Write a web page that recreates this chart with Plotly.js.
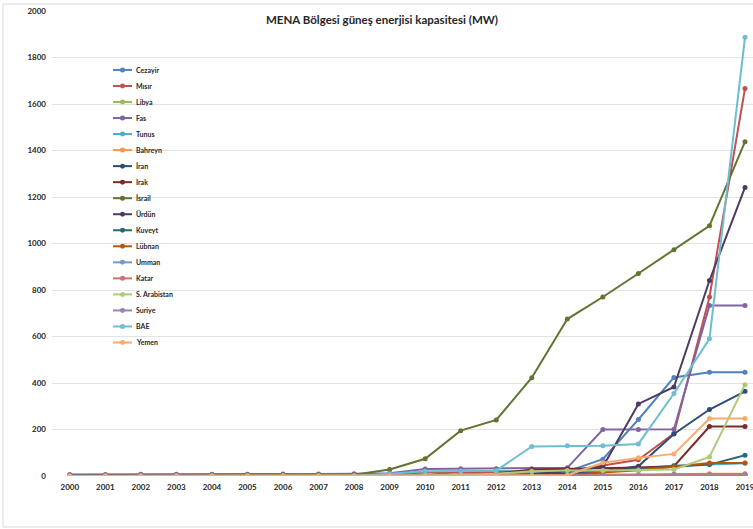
<!DOCTYPE html>
<html>
<head>
<meta charset="utf-8">
<script src="https://cdn.plot.ly/plotly-3.0.1.min.js"></script>
<style>html,body{margin:0;padding:0;background:#fff;}#chart{width:753px;height:529px;}</style>
</head>
<body>
<div id="chart"></div>
<script>
// ---- data ----
const years = ['2000','2001','2002','2003','2004','2005','2006','2007','2008','2009','2010','2011','2012','2013','2014','2015','2016','2017','2018','2019'];
const countries = ['Cezayir','Mısır','Libya','Fas','Tunus','Bahreyn','İran','Irak','İsrail','Ürdün','Kuveyt','Lübnan','Umman','Katar','S. Arabistan','Suriye','BAE','Yemen'];
const cezayir    = [1,1,1,1,1,1,1,1,1,1,2,20,20,20,20,72,243,424,446,446];
const misir      = [4,4,4,5,5,5,5,6,6,7,15,15,15,16,20,45,70,183,770,1667];
const libya      = [1,1,1,1,1,1,1,1,1,2,4,4,4,4,4,4,5,5,5,5];
const fas        = [6,6,7,7,8,8,9,9,10,12,30,31,31,31,35,200,200,201,733,733];
const tunus      = [0,0,0,0,1,1,1,1,2,3,4,5,8,12,15,20,30,45,50,55];
const bahreyn    = [0,0,0,0,0,0,0,0,0,0,0,0,1,3,5,5,6,8,10,10];
const iran       = [0,0,0,0,0,0,0,0,1,1,1,2,3,5,10,20,42,181,286,364];
const irak       = [0,0,0,0,0,0,0,0,0,1,2,5,10,28,30,35,37,42,213,213];
const israil     = [1,1,1,1,1,1,2,3,5,28,74,195,241,423,675,770,871,973,1076,1438];
const urdun      = [0,0,0,0,0,0,0,0,1,1,1,2,3,8,20,40,310,383,841,1241];
const kuveyt     = [0,0,0,0,0,0,0,0,0,0,0,1,2,2,2,20,30,42,49,89];
const lubnan     = [0,0,0,0,0,0,0,0,0,0,0,1,1,2,3,15,25,40,56,56];
const umman      = [0,0,0,0,0,0,0,0,0,0,0,0,0,1,1,1,2,8,8,9];
const katar      = [0,0,0,0,0,0,0,0,0,0,1,1,1,1,2,2,3,5,5,5];
const sArabistan = [0,0,0,0,0,0,0,0,1,1,2,5,10,20,24,24,25,28,82,393];
const suriye     = [0,0,0,0,0,0,0,0,0,0,1,1,1,1,1,1,1,1,1,1];
const bae        = [0,0,0,0,0,0,0,0,0,10,20,22,23,127,130,130,138,355,590,1887];
const yemen      = [0,0,0,0,0,0,0,0,0,0,0,0,0,0,3,57,78,95,247,247];
const yTicks = [0,200,400,600,800,1000,1200,1400,1600,1800,2000];
const titleText = 'MENA Bölgesi güneş enerjisi kapasitesi (MW)';

// ---- styles ----
const series = [cezayir,misir,libya,fas,tunus,bahreyn,iran,irak,israil,urdun,kuveyt,lubnan,umman,katar,sArabistan,suriye,bae,yemen];
const colors = ['#4F81BD','#C0504D','#9BBB59','#8064A2','#4BACC6','#F79646','#2C4D75','#772C2A','#5F7530','#4D3B62','#276A7C','#B65708','#729ACA','#CD7371','#AFC97A','#9983B5','#6FBDD1','#F9AB6B'];

const W = 753, H = 529;
const mL = 52, mR = 0, mT = 11, mB = 52.5;
const pw = W - mL - mR, ph = H - mT - mB;
const px2x = p => (p - mL) / pw;
const py2y = p => (H - mB - p) / ph;

const traces = series.map((vals, i) => ({
  type: 'scatter', mode: 'lines+markers', name: countries[i],
  x: years, y: vals,
  line: {color: colors[i], width: 2},
  marker: {color: colors[i], size: 5},
  showlegend: false
}));

// custom legend (Excel-like compact spacing)
const shapes = [];
const annotations = [];
countries.forEach((c, i) => {
  const cy = 70 + 16.05 * i;
  shapes.push({type: 'line', xref: 'paper', yref: 'paper',
    x0: px2x(113), x1: px2x(132), y0: py2y(cy), y1: py2y(cy),
    line: {color: colors[i], width: 2}});
  shapes.push({type: 'circle', xref: 'paper', yref: 'paper', fillcolor: colors[i],
    x0: px2x(120), x1: px2x(125), y0: py2y(cy - 2.5), y1: py2y(cy + 2.5),
    line: {color: colors[i], width: 0}});
  annotations.push({xref: 'paper', yref: 'paper', x: px2x(134), y: py2y(cy),
    xanchor: 'left', yanchor: 'middle', text: c, showarrow: false,
    font: {family: 'Lato, sans-serif', size: 7, color: '#262626', weight: 'bold'}});
});
// outer chart frame
shapes.push({type: 'rect', xref: 'paper', yref: 'paper', layer: 'below',
  x0: px2x(3), x1: px2x(770), y0: py2y(527.5), y1: py2y(4),
  line: {color: '#d9d9d9', width: 1}});

const layout = {
  width: W, height: H,
  margin: {l: mL, r: mR, t: mT, b: mB, pad: 0},
  paper_bgcolor: '#fff', plot_bgcolor: '#fff',
  title: {text: titleText, xref: 'container', yref: 'container',
    x: 382 / W, y: 1 - 20 / H, xanchor: 'center', yanchor: 'middle',
    font: {family: 'Lato, sans-serif', size: 11.5, color: '#262626', weight: 'bold'}},
  xaxis: {type: 'category', range: [-0.5, 19.225], showgrid: false, zeroline: false,
    showline: false, ticks: '', ticklabelstandoff: 5,
    tickfont: {family: 'Lato, sans-serif', size: 8, color: '#262626', weight: 'bold'}},
  yaxis: {range: [0, 2000], tickvals: yTicks, showgrid: true, gridcolor: '#e3e3e3', gridwidth: 1,
    zeroline: false, showline: false, ticks: '', ticklabelstandoff: 5,
    tickfont: {family: 'Lato, sans-serif', size: 8, color: '#262626', weight: 'bold'}},
  showlegend: false,
  shapes: shapes,
  annotations: annotations
};

Plotly.newPlot('chart', traces, layout, {displayModeBar: false, staticPlot: true});
</script>
</body>
</html>
